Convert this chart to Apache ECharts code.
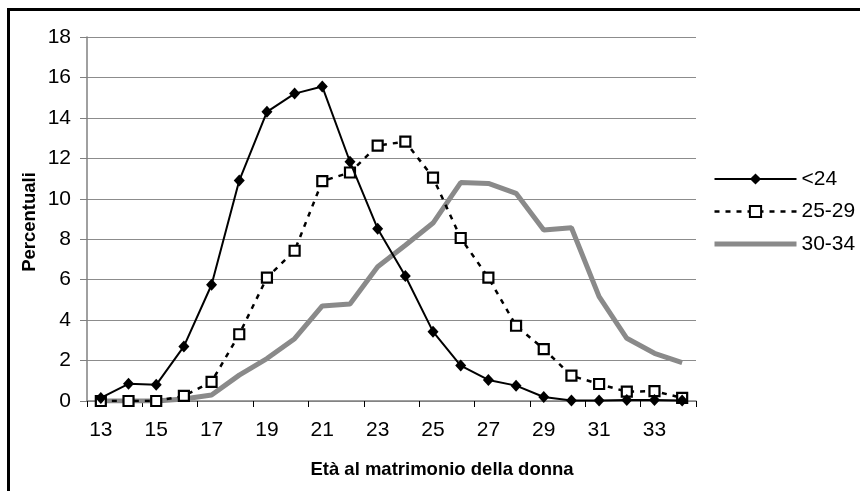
<!DOCTYPE html>
<html>
<head>
<meta charset="utf-8">
<script src="https://cdn.jsdelivr.net/npm/echarts@6/dist/echarts.min.js"></script>
<style>
html,body{margin:0;padding:0;background:#fff;}
#chart{width:860px;height:491px;}
</style>
</head>
<body>
<div id="chart"></div>
<script>
var categories = ['13','14','15','16','17','18','19','20','21','22','23','24','25','26','27','28','29','30','31','32','33','34'];
var seriesNames = ['<24','25-29','30-34'];
var under24 = [0.15,0.85,0.8,2.7,5.75,10.9,14.3,15.2,15.55,11.83,8.52,6.18,3.43,1.75,1.04,0.76,0.2,0.02,0.02,0.05,0.05,0.02];
var age25_29 = [0,0,0,0.25,0.95,3.3,6.1,7.43,10.87,11.3,12.63,12.83,11.05,8.06,6.1,3.72,2.57,1.25,0.84,0.46,0.49,0.15];
var age30_34 = [0,0,0,0.1,0.3,1.28,2.1,3.08,4.7,4.8,6.64,7.7,8.8,10.8,10.76,10.27,8.46,8.57,5.16,3.1,2.36,1.9];
var yTicks = {min:0, max:18, interval:2};
var xTitle = 'Età al matrimonio della donna';
var yTitle = 'Percentuali';

var chart = echarts.init(document.getElementById('chart'), null, {renderer:'canvas'});
var font = 'Arial, "Liberation Sans", sans-serif';
chart.setOption({
  animation:false,
  backgroundColor:'#fff',
  textStyle:{fontFamily:font},
  graphic:[
    {
      type:'rect', z:-10, silent:true,
      shape:{x:8.5, y:9.5, width:900, height:600},
      style:{fill:'none', stroke:'#000', lineWidth:3}
    },
    {
      type:'text', silent:true, x:442, y:469.5,
      style:{text:xTitle, font:'bold 18.5px ' + font, fill:'#000', align:'center', verticalAlign:'middle'}
    },
    {
      type:'text', silent:true, x:30, y:222, rotation:Math.PI/2,
      style:{text:yTitle, font:'bold 18.5px ' + font, fill:'#000', align:'center', verticalAlign:'middle'}
    }
  ],
  grid:{left:87, right:164, top:37, bottom:90, containLabel:false},
  legend:{
    orient:'vertical', left:707, top:163.5,
    itemWidth:82, itemHeight:14, itemGap:11.5,
    textStyle:{fontSize:21, color:'#000', fontFamily:font},
    data:[
      {name:seriesNames[0], lineStyle:{width:2, color:'#000'}},
      {name:seriesNames[1], lineStyle:{width:2.5, color:'#000', type:[5,6]}},
      {name:seriesNames[2], itemStyle:{opacity:0}, lineStyle:{width:5, color:'#8a8a8a'}}
    ]
  },
  xAxis:{
    type:'category', data:categories, boundaryGap:true,
    axisLine:{lineStyle:{color:'#808080', width:1.5}},
    axisTick:{show:true, length:6, lineStyle:{color:'#000', width:1}},
    axisLabel:{interval:1, fontSize:21, color:'#000', margin:19, fontFamily:font},
    splitLine:{show:false}
  },
  yAxis:{
    type:'value', min:yTicks.min, max:yTicks.max, interval:yTicks.interval,
    axisLine:{show:true, lineStyle:{color:'#808080', width:1.5}},
    axisTick:{show:true, length:7, lineStyle:{color:'#808080', width:1}},
    axisLabel:{fontSize:21, color:'#000', margin:16, fontFamily:font},
    splitLine:{show:true, lineStyle:{color:'#8c8c8c', width:1.2}}
  },
  series:[
    {
      name:seriesNames[2], type:'line', data:age30_34, z:1,
      symbol:'none', lineStyle:{color:'#8a8a8a', width:5},
      itemStyle:{color:'#8a8a8a'}
    },
    {
      name:seriesNames[1], type:'line', data:age25_29, z:2,
      symbol:'rect', symbolSize:10,
      lineStyle:{color:'#000', width:2.5, type:[5,6]},
      itemStyle:{color:'#fff', borderColor:'#000', borderWidth:2.2}
    },
    {
      name:seriesNames[0], type:'line', data:under24, z:3,
      symbol:'diamond', symbolSize:[11,12],
      lineStyle:{color:'#000', width:2},
      itemStyle:{color:'#000'}
    }
  ]
});
</script>
</body>
</html>
